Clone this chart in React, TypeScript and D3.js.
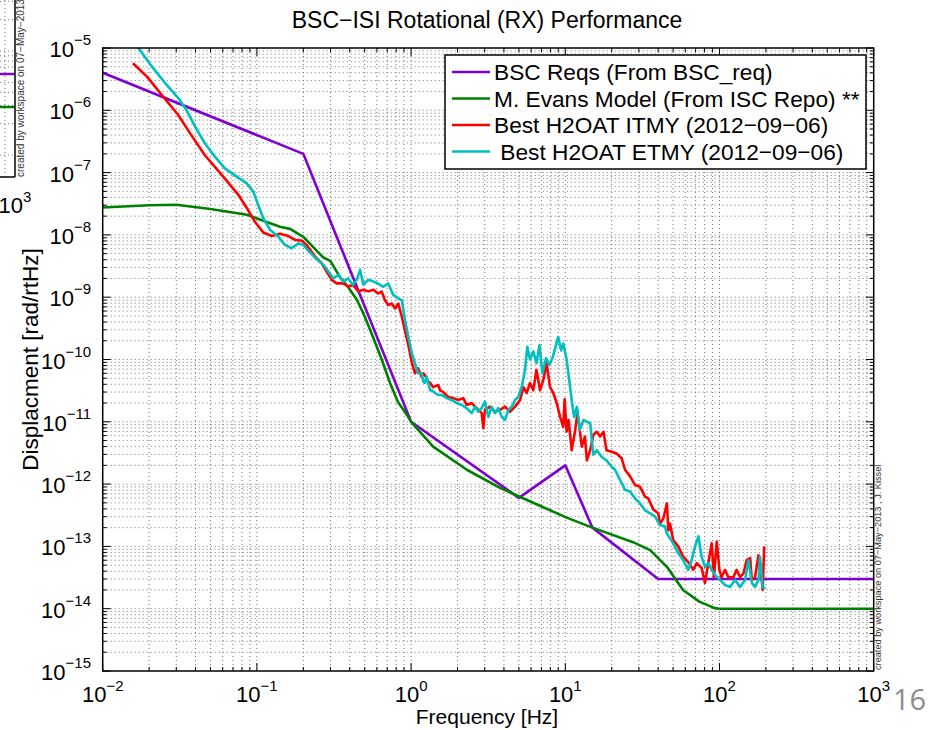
import React from "react";
import * as d3 from "d3";

// ---- Chart data -------------------------------------------------------
const xDecades = [-2, -1, 0, 1, 2, 3];
const yDecades = [-15, -14, -13, -12, -11, -10, -9, -8, -7, -6, -5];

const legendLabels = [
  "BSC Reqs (From BSC_req)",
  "M. Evans Model (From ISC Repo) **",
  "Best H2OAT ITMY (2012\u221209\u221206)",
  " Best H2OAT ETMY (2012\u221209\u221206)",
];

const bscReqFreq = [0.01, 0.2, 1, 5, 10, 15, 40, 1000];
const bscReqDisp = [4e-6, 2e-7, 1e-11, 6e-13, 2e-12, 2e-13, 3e-14, 3e-14];

const evansFreq = [
  0.01, 0.02, 0.03, 0.05, 0.086, 0.141, 0.164, 0.2, 0.268, 0.3, 0.346, 0.39,
  0.446, 0.502, 0.566, 0.647, 0.73, 0.82, 0.94, 1.0, 1.39, 2.3, 3.77, 5.1,
  10.2, 15, 27.5, 35.5, 45.6, 58, 74, 93, 100, 1000,
];
const evansDisp = [
  2.75e-8, 3.0e-8, 3.05e-8, 2.6e-8, 2.1e-8, 1.35e-8, 1.25e-8, 9.3e-9, 4.4e-9,
  3.8e-9, 2.1e-9, 1.46e-9, 9e-10, 4.8e-10, 2.3e-10, 9.8e-11, 4.2e-11, 2.1e-11,
  1.29e-11, 1e-11, 4e-12, 1.7e-12, 8.7e-13, 6.2e-13, 2.9e-13, 2e-13, 1.17e-13,
  8.7e-14, 4.7e-14, 2e-14, 1.3e-14, 1.02e-14, 1e-14, 1e-14,
];

const itmyFreq = [
  0.0157, 0.0193, 0.0247, 0.0309, 0.0368, 0.046, 0.0605, 0.0758, 0.086, 0.097,
  0.11, 0.125, 0.141, 0.16, 0.177, 0.195, 0.21, 0.238, 0.263, 0.284, 0.306,
  0.329, 0.363, 0.392, 0.42, 0.455, 0.49, 0.528, 0.57, 0.61, 0.645, 0.676,
  0.71, 0.75, 0.787, 0.826, 0.87, 0.913, 0.96, 1.01, 1.06, 1.09, 1.11, 1.17,
  1.2, 1.23, 1.29, 1.33, 1.39, 1.43, 1.5, 1.54, 1.62, 1.74, 1.88, 2.02, 2.18,
  2.29, 2.47, 2.66, 2.87, 2.94, 3.01, 3.25, 3.5, 3.77, 4.07, 4.38, 4.72, 5.09,
  5.35, 5.62, 5.9, 6.2, 6.5, 6.86, 7.2, 7.57, 7.96, 8.36, 8.8, 9.25, 9.7, 9.9,
  10.2, 10.5, 11.0, 11.6, 12.0, 12.8, 13.4, 13.8, 14.5, 15.2, 16, 16.8, 17.7,
  18.5, 20, 21.5, 23.2, 24.4, 26.3, 28.3, 30.5, 32.9, 34.5, 37.2, 40.1, 41.1,
  43.2, 45.6, 46.6, 47.8, 50.1, 54, 58.2, 62.8, 67.6, 71.1, 76.6, 80.5, 84.6,
  89, 92, 96, 99.8, 103, 108.6, 114, 123, 129, 136, 143, 150, 158, 162, 170,
  179, 183, 188, 190.5, 195,
];
const itmyDisp = [
  5.7e-6, 3.5e-6, 1.65e-6, 8.4e-7, 4.3e-7, 1.9e-7, 8.6e-8, 4.4e-8, 2.7e-8,
  1.63e-8, 1.09e-8, 9.6e-9, 1.04e-8, 9.6e-9, 8.3e-9, 8.1e-9, 6.9e-9, 4.5e-9,
  3.5e-9, 2.56e-9, 1.9e-9, 1.67e-9, 1.67e-9, 1.47e-9, 1.58e-9, 1.24e-9,
  1.32e-9, 1.24e-9, 1.32e-9, 1.15e-9, 1.23e-9, 9e-10, 7.5e-10, 7.9e-10,
  6.6e-10, 7.9e-10, 4.9e-10, 2.9e-10, 1.7e-10, 9e-11, 6e-11, 6.8e-11, 7.2e-11,
  5.3e-11, 6e-11, 5.6e-11, 4.4e-11, 4.2e-11, 3.6e-11, 3.7e-11, 3.9e-11,
  3.2e-11, 3e-11, 2.5e-11, 2.4e-11, 2.24e-11, 2.4e-11, 1.86e-11, 2e-11,
  1.66e-11, 1.38e-11, 7.9e-12, 1.55e-11, 1.75e-11, 1.45e-11, 1.55e-11,
  1.75e-11, 1.45e-11, 1.75e-11, 2.24e-11, 3.6e-11, 2.9e-11, 4.2e-11, 3.2e-11,
  6.8e-11, 3.2e-11, 4.7e-11, 8.7e-11, 3.6e-11, 2.9e-11, 2e-11, 1.2e-11,
  8.3e-12, 2.3e-11, 7e-12, 1.07e-11, 3.5e-12, 7.4e-12, 1.4e-11, 4e-12, 5.8e-12,
  2.4e-12, 3.5e-12, 6.2e-12, 6.9e-12, 5.8e-12, 6.9e-12, 3.5e-12, 3.3e-12,
  3.1e-12, 2.6e-12, 1.7e-12, 1.33e-12, 9.7e-13, 9.1e-13, 6.3e-13, 5.9e-13,
  3.9e-13, 3.4e-13, 2.3e-13, 2.8e-13, 4.9e-13, 1.8e-13, 2.3e-13, 1.26e-13,
  1e-13, 6.8e-14, 5.6e-14, 4.2e-14, 5.4e-14, 4.5e-14, 2.6e-14, 5.4e-14,
  1.12e-13, 3.2e-14, 1.2e-13, 4.2e-14, 3.2e-14, 4.2e-14, 3.2e-14, 3.2e-14,
  4.2e-14, 3.2e-14, 3.7e-14, 6e-14, 6.5e-14, 2.9e-14, 3.2e-14, 7.2e-14,
  4.7e-14, 2.9e-14, 2e-14, 1e-13,
];

const etmyFreq = [
  0.0168, 0.0213, 0.026, 0.031, 0.035, 0.0397, 0.046, 0.0534, 0.062, 0.074,
  0.086, 0.095, 0.102, 0.11, 0.122, 0.138, 0.152, 0.168, 0.186, 0.2, 0.215,
  0.244, 0.27, 0.29, 0.313, 0.337, 0.363, 0.39, 0.42, 0.444, 0.467, 0.49,
  0.528, 0.57, 0.61, 0.66, 0.71, 0.766, 0.826, 0.87, 0.913, 0.96, 1.01, 1.06,
  1.11, 1.17, 1.2, 1.23, 1.26, 1.33, 1.36, 1.43, 1.5, 1.58, 1.7, 1.83, 1.98,
  2.13, 2.29, 2.47, 2.6, 2.73, 2.87, 3.01, 3.17, 3.33, 3.5, 3.68, 3.87, 4.07,
  4.27, 4.49, 4.72, 4.96, 5.21, 5.48, 5.67, 5.9, 6.2, 6.5, 6.8, 7.1, 7.5, 7.9,
  8.3, 8.7, 9.0, 9.4, 9.7, 10.2, 10.6, 11.0, 11.4, 11.9, 12.4, 13.1, 13.8,
  14.5, 15.0, 15.2, 16, 17.2, 18.5, 20, 21, 22.6, 24.4, 26.3, 28.3, 30.5, 32.9,
  35.5, 38.2, 41.1, 44.3, 45.4, 50.1, 54, 58.2, 62.8, 66, 69.4, 73, 76.6, 80.5,
  84.6, 89, 93.5, 100.7, 108.6, 117, 126, 136, 146.5, 154, 162, 170, 179, 183,
  190.5, 197,
];
const etmyDisp = [
  1.05e-5, 4.7e-6, 2.55e-6, 1.56e-6, 1e-6, 5.5e-7, 2.95e-7, 1.8e-7, 1.17e-7,
  8.6e-8, 6.7e-8, 4.9e-8, 3e-8, 1.85e-8, 1.2e-8, 9.3e-9, 6.9e-9, 6.1e-9,
  7.3e-9, 6.9e-9, 5.6e-9, 4.1e-9, 3.3e-9, 2.6e-9, 2e-9, 2.3e-9, 1.78e-9, 2e-9,
  1.58e-9, 1.9e-9, 2.75e-9, 1.58e-9, 1.9e-9, 1.78e-9, 1.66e-9, 1.47e-9,
  1.66e-9, 1.09e-9, 9.6e-10, 9e-10, 4.3e-10, 2.3e-10, 1.26e-10, 8.7e-11,
  6e-11, 6e-11, 4.4e-11, 4.2e-11, 5.3e-11, 3.2e-11, 3.2e-11, 2.9e-11, 2.7e-11,
  2.7e-11, 2.4e-11, 2.24e-11, 2e-11, 1.86e-11, 1.66e-11, 1.38e-11, 1.74e-11,
  1.45e-11, 1.66e-11, 2.1e-11, 1.2e-11, 1.74e-11, 1.38e-11, 1.66e-11, 1.2e-11,
  1.07e-11, 1.55e-11, 1.74e-11, 2.24e-11, 2.5e-11, 3.6e-11, 6.8e-11, 1.6e-10,
  1e-10, 1.35e-10, 8.7e-11, 1.7e-10, 6e-11, 1.05e-10, 8.2e-11, 1.1e-10,
  1.7e-10, 2.3e-10, 1.4e-10, 1.8e-10, 1e-10, 4.7e-11, 2.24e-11, 1.2e-11,
  1.74e-11, 7.4e-12, 1.07e-11, 1e-11, 9.5e-12, 4e-12, 2.95e-12, 3.5e-12,
  2.75e-12, 2.4e-12, 1.9e-12, 1.7e-12, 1.18e-12, 8.1e-13, 7.6e-13, 5.9e-13,
  4.9e-13, 3.8e-13, 3.4e-13, 3e-13, 2.2e-13, 2.1e-13, 1.64e-13, 1.12e-13,
  7.8e-14, 6e-14, 4.2e-14, 6e-14, 1e-13, 1.45e-13, 6.8e-14, 4.7e-14, 5.4e-14,
  4.2e-14, 3.5e-14, 2.9e-14, 2.4e-14, 2.24e-14, 2.9e-14, 2.24e-14, 2.9e-14,
  6e-14, 2.6e-14, 2.24e-14, 2.9e-14, 6.8e-14, 2.24e-14, 2.1e-14,
];

// ---- Layout & style ----------------------------------------------------
const W = 936;
const H = 730;
const PLOT = { left: 102.7, right: 873.7, top: 48, bottom: 671 };
const FONT = "'Liberation Sans', Arial, Helvetica, sans-serif";
const COLORS = ["#7f00d4", "#008000", "#ff0000", "#00bfbf"];

const zip = (f: number[], v: number[]): [number, number][] =>
  f.map((fi, i) => [fi, v[i]]);

const seriesData = [
  zip(bscReqFreq, bscReqDisp),
  zip(evansFreq, evansDisp),
  zip(itmyFreq, itmyDisp),
  zip(etmyFreq, etmyDisp),
];

const sup = (k: number) => (k < 0 ? "\u2212" + Math.abs(k) : String(k));

export default function App() {
  const x = d3.scaleLog().domain([1e-2, 1e3]).range([PLOT.left, PLOT.right]);
  const y = d3.scaleLog().domain([1e-15, 1e-5]).range([PLOT.bottom, PLOT.top]);
  const line = d3
    .line<[number, number]>()
    .x((d) => x(d[0]))
    .y((d) => y(d[1]));

  // major and minor tick positions from the decade lists
  const xMajor = xDecades.map((k) => Math.pow(10, k));
  const yMajor = yDecades.map((k) => Math.pow(10, k));
  const xMinor: number[] = [];
  xDecades.slice(0, -1).forEach((k) => {
    for (let m = 2; m <= 9; m++) xMinor.push(m * Math.pow(10, k));
  });
  const yMinor: number[] = [];
  yDecades.slice(0, -1).forEach((k) => {
    for (let m = 2; m <= 9; m++) yMinor.push(m * Math.pow(10, k));
  });

  const gridStyle = { stroke: "#666", strokeWidth: 0.9, strokeDasharray: "1 3" };

  // a sliver of the neighbouring figure at the far left edge
  const yNb = d3.scaleLog().domain([1e-8, 1e-5]).range([155, -157]);
  const nbMinor: number[] = [];
  [-8, -7, -6].forEach((k) => {
    for (let m = 1; m <= 9; m++) nbMinor.push(m * Math.pow(10, k));
  });

  const legend = { x: 445, y: 55, w: 421, h: 114, row: 26.5 };

  return (
    <svg
      width={W}
      height={H}
      style={{ position: "absolute", left: 0, top: 0, background: "#fff" }}
      fontFamily={FONT}
    >
      <defs>
        <clipPath id="plotClip">
          <rect
            x={PLOT.left}
            y={PLOT.top}
            width={PLOT.right - PLOT.left}
            height={PLOT.bottom - PLOT.top}
          />
        </clipPath>
      </defs>

      {/* neighbouring figure edge */}
      <g>
        {nbMinor
          .filter((v) => yNb(v) > 0 && yNb(v) < 177)
          .map((v, i) => (
            <line key={"nb" + i} x1={0} x2={15} y1={yNb(v)} y2={yNb(v)} {...gridStyle} />
          ))}
        <line x1={5} x2={5} y1={0} y2={177} {...gridStyle} />
        <line x1={0} x2={15} y1={74} y2={74} stroke={COLORS[0]} strokeWidth={2.5} />
        <line x1={0} x2={15} y1={107} y2={107} stroke={COLORS[1]} strokeWidth={2.5} />
        <line x1={15} x2={15} y1={0} y2={177} stroke="#000" strokeWidth={1.5} />
        <line x1={0} x2={15} y1={177} y2={177} stroke="#000" strokeWidth={1.5} />
        <text transform="translate(24,177) rotate(-90)" fontSize={10} fill="#333">
          created by workspace on 07{"\u2212"}May{"\u2212"}2013
        </text>
        <text x={15} y={213} fontSize={22} textAnchor="middle">
          10
          <tspan dy={-11} fontSize={15}>
            3
          </tspan>
        </text>
      </g>

      {/* title */}
      <text x={487} y={28} fontSize={23} textAnchor="middle">
        BSC{"\u2212"}ISI Rotational (RX) Performance
      </text>

      {/* grid */}
      <g>
        {xMinor.concat(xMajor.slice(1, -1)).map((v, i) => (
          <line key={"gx" + i} x1={x(v)} x2={x(v)} y1={PLOT.top} y2={PLOT.bottom} {...gridStyle} />
        ))}
        {yMinor.concat(yMajor.slice(1, -1)).map((v, i) => (
          <line key={"gy" + i} x1={PLOT.left} x2={PLOT.right} y1={y(v)} y2={y(v)} {...gridStyle} />
        ))}
      </g>

      {/* ticks on all four sides */}
      <g stroke="#000" strokeWidth={1}>
        {xMajor.map((v, i) => (
          <g key={"tx" + i}>
            <line x1={x(v)} x2={x(v)} y1={PLOT.bottom} y2={PLOT.bottom - 8} />
            <line x1={x(v)} x2={x(v)} y1={PLOT.top} y2={PLOT.top + 8} />
          </g>
        ))}
        {xMinor.map((v, i) => (
          <g key={"tmx" + i}>
            <line x1={x(v)} x2={x(v)} y1={PLOT.bottom} y2={PLOT.bottom - 4} />
            <line x1={x(v)} x2={x(v)} y1={PLOT.top} y2={PLOT.top + 4} />
          </g>
        ))}
        {yMajor.map((v, i) => (
          <g key={"ty" + i}>
            <line x1={PLOT.left} x2={PLOT.left + 8} y1={y(v)} y2={y(v)} />
            <line x1={PLOT.right} x2={PLOT.right - 8} y1={y(v)} y2={y(v)} />
          </g>
        ))}
        {yMinor.map((v, i) => (
          <g key={"tmy" + i}>
            <line x1={PLOT.left} x2={PLOT.left + 4} y1={y(v)} y2={y(v)} />
            <line x1={PLOT.right} x2={PLOT.right - 4} y1={y(v)} y2={y(v)} />
          </g>
        ))}
      </g>

      {/* data */}
      <g clipPath="url(#plotClip)" fill="none" strokeLinejoin="round">
        {seriesData.map((d, i) => (
          <path key={"s" + i} d={line(d) || ""} stroke={COLORS[i]} strokeWidth={2.6} />
        ))}
      </g>

      {/* frame */}
      <rect
        x={PLOT.left}
        y={PLOT.top}
        width={PLOT.right - PLOT.left}
        height={PLOT.bottom - PLOT.top}
        fill="none"
        stroke="#000"
        strokeWidth={1.5}
      />

      {/* tick labels */}
      {xDecades.map((k) => (
        <text key={"lx" + k} x={x(Math.pow(10, k))} y={702} fontSize={22} textAnchor="middle">
          10
          <tspan dy={-11} fontSize={15}>
            {sup(k)}
          </tspan>
        </text>
      ))}
      {yDecades.map((k) => (
        <text key={"ly" + k} x={91} y={y(Math.pow(10, k)) + 9} fontSize={22} textAnchor="end">
          10
          <tspan dy={-12} fontSize={15}>
            {sup(k)}
          </tspan>
        </text>
      ))}

      {/* axis labels */}
      <text x={487} y={724} fontSize={21} textAnchor="middle">
        Frequency [Hz]
      </text>
      <text
        transform={`translate(38,${(PLOT.top + PLOT.bottom) / 2}) rotate(-90)`}
        fontSize={22.5}
        textAnchor="middle"
      >
        Displacment [rad/rtHz]
      </text>

      {/* legend */}
      <g>
        <rect
          x={legend.x}
          y={legend.y}
          width={legend.w}
          height={legend.h}
          fill="#fff"
          stroke="#000"
          strokeWidth={1.5}
        />
        {legendLabels.map((label, i) => {
          const cy = legend.y + 17 + i * legend.row;
          return (
            <g key={"lg" + i}>
              <line x1={452} x2={490} y1={cy} y2={cy} stroke={COLORS[i]} strokeWidth={2.6} />
              <text x={494} y={cy + 8} fontSize={22.7} style={{ whiteSpace: "pre" }}>
                {label}
              </text>
            </g>
          );
        })}
      </g>

      {/* print stamp */}
      <text transform="translate(881,670) rotate(-90)" fontSize={9.2} fill="#333">
        created by workspace on 07{"\u2212"}May{"\u2212"}2013 , J. Kissel
      </text>

      {/* slide page number */}
      <text x={893} y={710} fontSize={29} fill="#8c8c8c" fontFamily="'Open Sans', Lato, sans-serif">
        16
      </text>
    </svg>
  );
}
